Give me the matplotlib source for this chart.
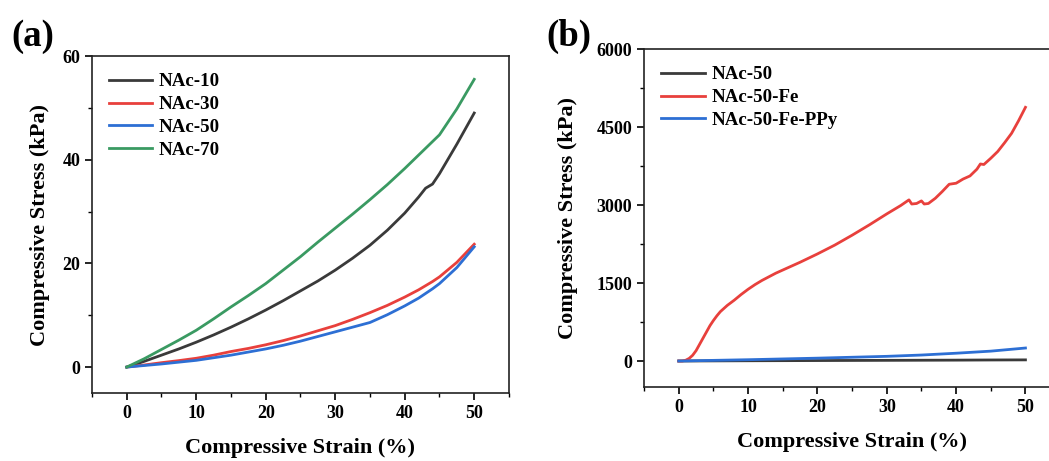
import matplotlib
matplotlib.use('Agg')
import matplotlib.pyplot as plt
from matplotlib.ticker import MultipleLocator

plt.rcParams['font.family'] = ['Liberation Serif', 'DejaVu Serif']
plt.rcParams['font.weight'] = 'bold'

# panel (a): strain (%) vs stress (kPa)
strain_a = [0, 2.5, 5, 7.5, 10, 12.5, 15, 17.5, 20, 22.5, 25, 27.5, 30, 32.5, 35, 37.5,
            40, 42, 43, 44, 45, 47.5, 50]
nac10 = [0, 1.1, 2.3, 3.5, 4.8, 6.2, 7.7, 9.3, 11.0, 12.8, 14.7, 16.6, 18.7, 21.0, 23.5, 26.4,
         29.7, 32.8, 34.5, 35.3, 37.3, 43.0, 49.0]
nac30 = [0, 0.4, 0.85, 1.25, 1.7, 2.3, 3.0, 3.6, 4.3, 5.1, 6.0, 7.0, 8.0, 9.2, 10.5, 11.9,
         13.5, 14.9, 15.7, 16.5, 17.4, 20.2, 23.7]
nac50 = [0, 0.3, 0.6, 0.95, 1.3, 1.8, 2.3, 2.9, 3.5, 4.2, 5.0, 5.9, 6.8, 7.7, 8.6, 10.1,
         11.8, 13.3, 14.2, 15.1, 16.1, 19.2, 23.2]
nac70 = [0, 1.6, 3.4, 5.2, 7.1, 9.3, 11.6, 13.8, 16.1, 18.7, 21.3, 24.1, 26.8, 29.5, 32.3, 35.2,
         38.3, 40.9, 42.2, 43.5, 44.8, 49.8, 55.5]

# panel (b)
strain_b = [0, 0.5, 1, 1.5, 2, 2.5, 3, 3.5, 4, 4.5, 5, 5.5, 6, 6.5, 7, 8, 9, 10, 11, 12, 13, 14,
            15, 17.5, 20, 22.5, 25, 27.5, 30, 32, 33.2, 33.6, 34.3, 35, 35.4, 36, 37, 38, 39, 40,
            41, 42, 43, 43.5, 44, 45, 46, 47, 48, 49, 50]
fe = [0, 0, 15, 50, 110, 200, 320, 440, 560, 680, 780, 870, 950, 1010, 1070, 1170, 1280, 1380,
      1470, 1550, 1620, 1690, 1750, 1900, 2060, 2230, 2420, 2620, 2830, 2990, 3100, 3020, 3030,
      3080, 3020, 3030, 3130, 3260, 3400, 3420, 3500, 3560, 3690, 3790, 3780, 3900, 4030, 4200,
      4380, 4620, 4880]
strain_b2 = [0, 10, 20, 30, 35, 40, 45, 50]
nac50_b = [0, 5, 9, 13, 15, 17, 20, 22]
ppy = [0, 25, 55, 90, 115, 150, 190, 250]

c_black = '#3a3a3a'
c_red = '#e8403c'
c_blue = '#2d6fd4'
c_green = '#3a9a62'

fig = plt.figure(figsize=(10.49, 4.61), dpi=100)
ax1 = fig.add_axes([0.0877, 0.1475, 0.3975, 0.731])
ax2 = fig.add_axes([0.614, 0.1605, 0.3966, 0.733])

ax1.plot(strain_a, nac10, color=c_black, lw=2, label='NAc-10')
ax1.plot(strain_a, nac30, color=c_red, lw=2, label='NAc-30')
ax1.plot(strain_a, nac50, color=c_blue, lw=2, label='NAc-50')
ax1.plot(strain_a, nac70, color=c_green, lw=2, label='NAc-70')
ax1.set_xlim(-5, 55)
ax1.set_ylim(-5, 60)
ax1.xaxis.set_major_locator(MultipleLocator(10))
ax1.xaxis.set_minor_locator(MultipleLocator(5))
ax1.yaxis.set_major_locator(MultipleLocator(20))
ax1.yaxis.set_minor_locator(MultipleLocator(10))

ax2.plot(strain_b2, nac50_b, color=c_black, lw=2, label='NAc-50')
ax2.plot(strain_b, fe, color=c_red, lw=2, label='NAc-50-Fe')
ax2.plot(strain_b2, ppy, color=c_blue, lw=2, label='NAc-50-Fe-PPy')
ax2.set_xlim(-5, 55)
ax2.set_ylim(-500, 6000)
ax2.xaxis.set_major_locator(MultipleLocator(10))
ax2.xaxis.set_minor_locator(MultipleLocator(5))
ax2.yaxis.set_major_locator(MultipleLocator(1500))
ax2.yaxis.set_minor_locator(MultipleLocator(750))

for ax, ypad in ((ax1, 9), (ax2, 13)):
    ax.tick_params(which='both', direction='out', top=False, right=False, labelsize=13)
    ax.tick_params(which='major', length=5, width=1.2)
    ax.tick_params(which='minor', length=3, width=1.0)
    for s in ax.spines.values():
        s.set_linewidth(1.2)
        s.set_color('#222222')
    ax.set_xlabel('Compressive Strain (%)', fontsize=16, fontweight='bold', labelpad=12)
    ax.set_ylabel('Compressive Stress (kPa)', fontsize=16, fontweight='bold', labelpad=ypad)
    ax.legend(loc='upper left', frameon=False, handlelength=2.3, handletextpad=0.35,
              labelspacing=0.3, borderaxespad=0.5, prop={'weight': 'bold', 'size': 13.6})

fig.text(0.011, 0.9, '(a)', fontsize=26.5, fontweight='bold')
fig.text(0.521, 0.9, '(b)', fontsize=26.5, fontweight='bold')

fig.savefig('out.png', dpi=100)
